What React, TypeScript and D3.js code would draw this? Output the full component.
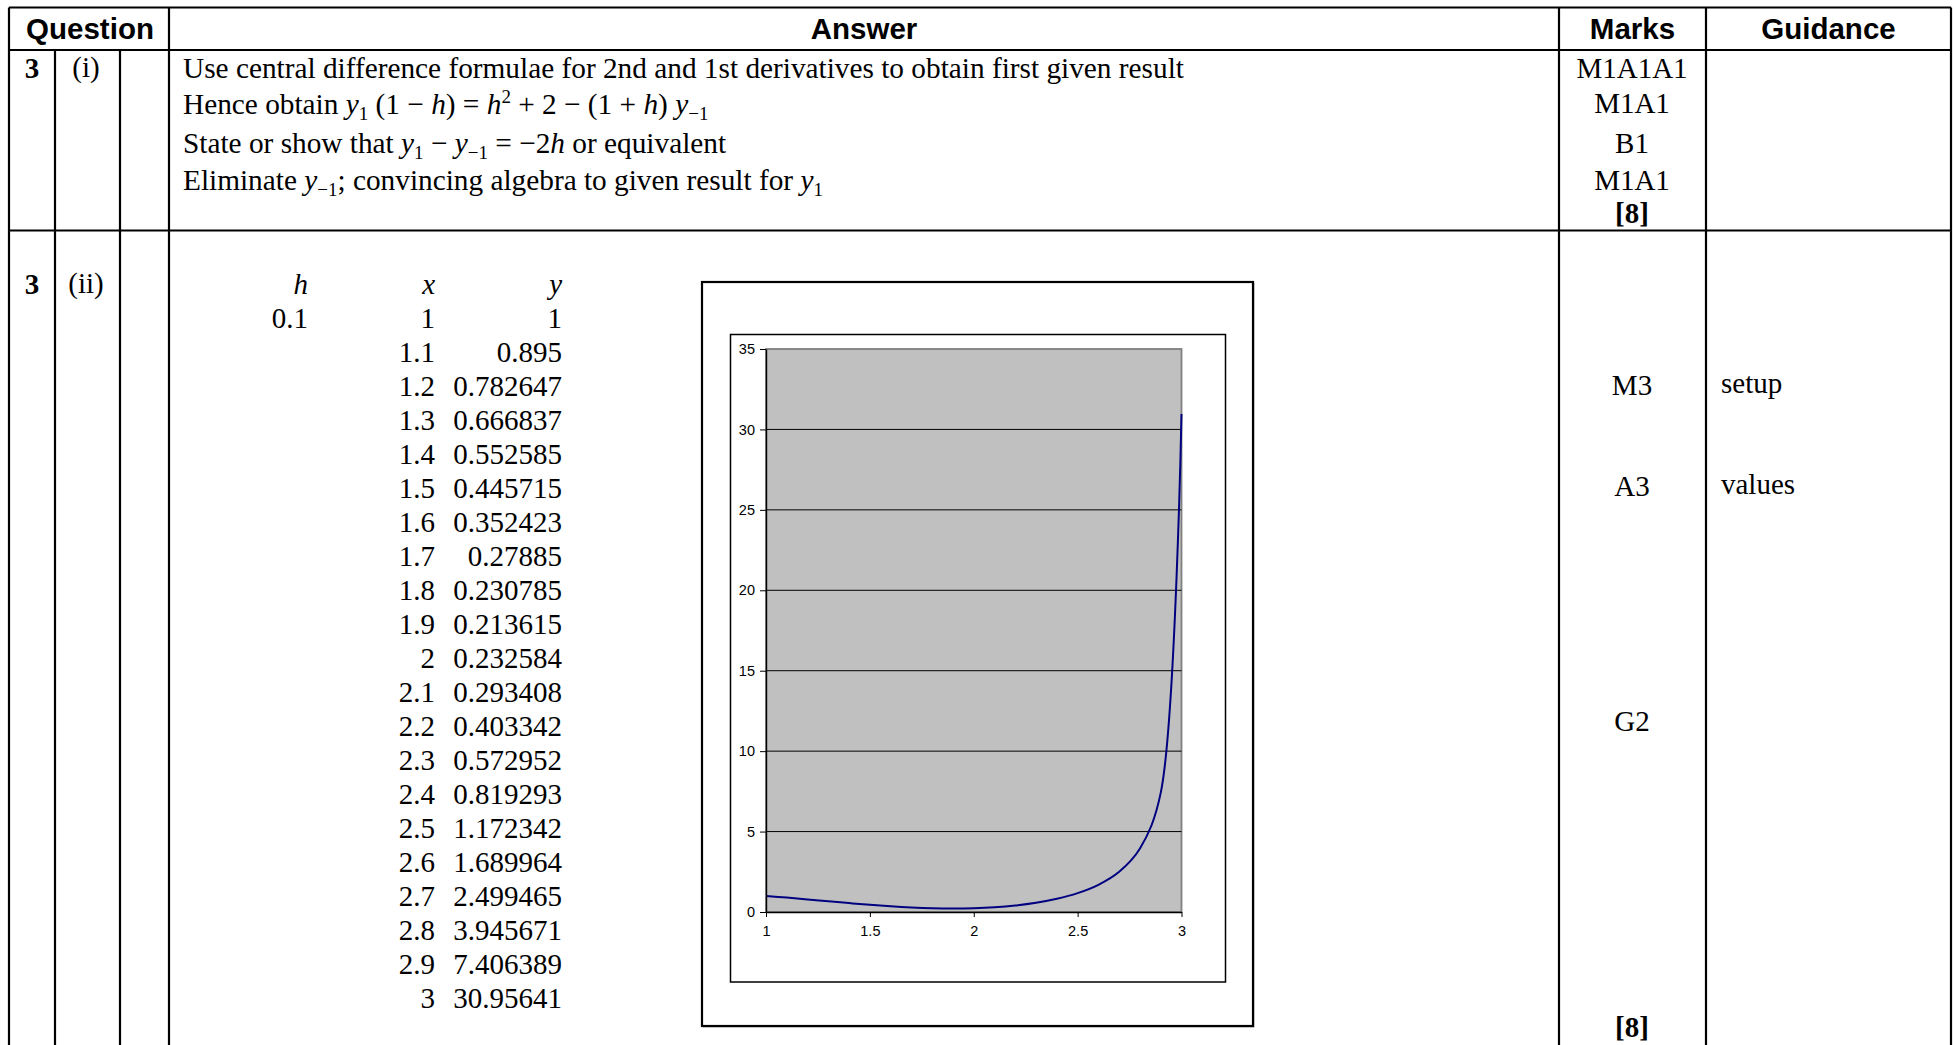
import React, { useEffect, useRef } from 'react';
import * as d3 from 'd3';

// ---- data ----
const hValue = 0.1;
const xValues = [1, 1.1, 1.2, 1.3, 1.4, 1.5, 1.6, 1.7, 1.8, 1.9, 2, 2.1, 2.2, 2.3, 2.4, 2.5, 2.6, 2.7, 2.8, 2.9, 3];
const yValues = [1, 0.895, 0.782647, 0.666837, 0.552585, 0.445715, 0.352423, 0.27885, 0.230785, 0.213615, 0.232584, 0.293408, 0.403342, 0.572952, 0.819293, 1.172342, 1.689964, 2.499465, 3.945671, 7.406389, 30.95641];
const yTicks = [0, 5, 10, 15, 20, 25, 30, 35];
const xTicks = [1, 1.5, 2, 2.5, 3];
const headers = ['Question', 'Answer', 'Marks', 'Guidance'];
const marksPart1 = ['M1A1A1', 'M1A1', 'B1', 'M1A1'];
const totalMarks = '[8]';
const marksPart2 = ['M3', 'A3', 'G2'];
const guidancePart2 = ['setup', 'values'];

type Seg = { t: string; i?: boolean; sub?: boolean; sup?: boolean };
const answerLines: Seg[][] = [
  [{ t: 'Use central difference formulae for 2nd and 1st derivatives to obtain first given result' }],
  [
    { t: 'Hence obtain ' }, { t: 'y', i: true }, { t: '1', sub: true }, { t: ' (1 \u2212 ' }, { t: 'h', i: true },
    { t: ') = ' }, { t: 'h', i: true }, { t: '2', sup: true }, { t: ' + 2 \u2212 (1 + ' }, { t: 'h', i: true },
    { t: ') ' }, { t: 'y', i: true }, { t: '\u22121', sub: true },
  ],
  [
    { t: 'State or show that ' }, { t: 'y', i: true }, { t: '1', sub: true }, { t: ' \u2212 ' }, { t: 'y', i: true },
    { t: '\u22121', sub: true }, { t: ' = \u22122' }, { t: 'h', i: true }, { t: ' or equivalent' },
  ],
  [
    { t: 'Eliminate ' }, { t: 'y', i: true }, { t: '\u22121', sub: true }, { t: '; convincing algebra to given result for ' },
    { t: 'y', i: true }, { t: '1', sub: true },
  ],
];

const SERIF = '"Liberation Serif", "Times New Roman", serif';
const SANS = '"Liberation Sans", Arial, sans-serif';
const FS = 29;
const FS_ANS = 29.3;

function RichText({ x, y, segs }: { x: number; y: number; segs: Seg[] }) {
  let shift = 0;
  return (
    <text x={x} y={y} fontFamily={SERIF} fontSize={FS_ANS} fill="#000">
      {segs.map((s, k) => {
        const target = s.sub ? 6 : s.sup ? -11 : 0;
        const dy = target - shift;
        shift = target;
        return (
          <tspan key={k} dy={dy} fontStyle={s.i ? 'italic' : 'normal'} fontSize={s.sub || s.sup ? 19 : FS_ANS}>
            {s.t}
          </tspan>
        );
      })}
    </text>
  );
}

export default function App() {
  const leftAxisRef = useRef<SVGGElement>(null);
  const bottomAxisRef = useRef<SVGGElement>(null);

  const sx = d3.scaleLinear().domain([1, 3]).range([766, 1181.5]);
  const sy = d3.scaleLinear().domain([0, 35]).range([912, 349]);

  useEffect(() => {
    if (leftAxisRef.current) {
      const g = d3.select(leftAxisRef.current);
      g.call(d3.axisLeft(sy).tickValues(yTicks).tickSize(6).tickSizeOuter(0).tickPadding(5).tickFormat(d3.format('d')) as any);
      g.selectAll('text').attr('font-family', SANS).attr('font-size', 14.5).attr('fill', '#000');
      g.selectAll('line').attr('stroke', '#000');
      g.select('.domain').attr('stroke', '#000').attr('stroke-width', 1.4);
    }
    if (bottomAxisRef.current) {
      const g = d3.select(bottomAxisRef.current);
      g.call(d3.axisBottom(sx).tickValues(xTicks).tickSize(5).tickSizeOuter(0).tickPadding(9).tickFormat(d3.format('')) as any);
      g.selectAll('text').attr('font-family', SANS).attr('font-size', 14.5).attr('fill', '#000');
      g.selectAll('line').attr('stroke', '#000');
      g.select('.domain').attr('stroke', '#000').attr('stroke-width', 1.4);
    }
  }, []);

  const line = d3
    .line<number>()
    .x((_, i) => sx(xValues[i]))
    .y((d) => sy(d))
    .curve(d3.curveCatmullRom.alpha(0.5));

  // table geometry
  const L = 9, R = 1951, T = 7.5, HB = 50, R1B = 230.5;
  const cols = [55, 120, 169, 1559, 1706];
  const lw = 2.2;
  const rowBase = 327.5, rowStep = 34;

  return (
    <svg width={1954} height={1045} style={{ position: 'absolute', left: 0, top: 0, background: '#fff' }}>
      <rect x={0} y={0} width={1954} height={1045} fill="#fff" />
      {/* table lines */}
      <g stroke="#000" strokeWidth={lw}>
        <line x1={L} x2={R} y1={T} y2={T} />
        <line x1={L} x2={R} y1={HB} y2={HB} />
        <line x1={L} x2={R} y1={R1B} y2={R1B} />
        <line x1={L} x2={L} y1={T} y2={1045} />
        <line x1={R} x2={R} y1={T} y2={1045} />
        <line x1={cols[0]} x2={cols[0]} y1={HB} y2={1045} />
        <line x1={cols[1]} x2={cols[1]} y1={HB} y2={1045} />
        <line x1={cols[2]} x2={cols[2]} y1={T} y2={1045} />
        <line x1={cols[3]} x2={cols[3]} y1={T} y2={1045} />
        <line x1={cols[4]} x2={cols[4]} y1={T} y2={1045} />
      </g>
      {/* headers */}
      <g fontFamily={SANS} fontWeight="bold" fontSize={29.5} textAnchor="middle" fill="#000">
        <text x={(L + cols[2]) / 2 + 1} y={39}>{headers[0]}</text>
        <text x={(cols[2] + cols[3]) / 2} y={39}>{headers[1]}</text>
        <text x={(cols[3] + cols[4]) / 2} y={39}>{headers[2]}</text>
        <text x={(cols[4] + R) / 2} y={39}>{headers[3]}</text>
      </g>
      {/* question labels */}
      <g fontFamily={SERIF} fontSize={FS} fill="#000" textAnchor="middle">
        <text x={32} y={78} fontWeight="bold">3</text>
        <text x={86} y={77}>(i)</text>
        <text x={32} y={294} fontWeight="bold">3</text>
        <text x={86} y={293}>(ii)</text>
      </g>
      {/* part (i) answer */}
      {answerLines.map((segs, k) => (
        <RichText key={k} x={183} y={[78, 114, 153, 190][k]} segs={segs} />
      ))}
      {/* marks */}
      <g fontFamily={SERIF} fontSize={FS} fill="#000" textAnchor="middle">
        {marksPart1.map((m, k) => (
          <text key={k} x={1632} y={[78, 113, 153, 190][k]}>{m}</text>
        ))}
        <text x={1632} y={223} fontWeight="bold">{totalMarks}</text>
        {marksPart2.map((m, k) => (
          <text key={'b' + k} x={1632} y={[395, 496, 731][k]}>{m}</text>
        ))}
        <text x={1632} y={1037} fontWeight="bold">{totalMarks}</text>
      </g>
      <g fontFamily={SERIF} fontSize={FS} fill="#000">
        {guidancePart2.map((g, k) => (
          <text key={k} x={1721} y={[393, 494][k]}>{g}</text>
        ))}
      </g>
      {/* value table */}
      <g fontFamily={SERIF} fontSize={FS} fill="#000" textAnchor="end">
        <text x={308} y={294} fontStyle="italic">h</text>
        <text x={435} y={294} fontStyle="italic">x</text>
        <text x={562} y={294} fontStyle="italic">y</text>
        <text x={308} y={rowBase}>{String(hValue)}</text>
        {xValues.map((x, i) => (
          <text key={'x' + i} x={435} y={rowBase + rowStep * i}>{String(x)}</text>
        ))}
        {yValues.map((y, i) => (
          <text key={'y' + i} x={562} y={rowBase + rowStep * i}>{String(y)}</text>
        ))}
      </g>
      {/* chart */}
      <rect x={703} y={283} width={551} height={744} fill="none" stroke="#aaa" strokeWidth={1} />
      <rect x={702} y={282} width={551} height={744} fill="#fff" stroke="#000" strokeWidth={2.2} />
      <rect x={730.5} y={334.5} width={495} height={647.5} fill="#fff" stroke="#000" strokeWidth={1.5} />
      <rect x={sx(1)} y={sy(35)} width={sx(3) - sx(1)} height={sy(0) - sy(35)} fill="#C0C0C0" stroke="#808080" strokeWidth={1.8} />
      <g stroke="#000" strokeWidth={1}>
        {yTicks.filter((t) => t > 0 && t < 35).map((t) => (
          <line key={t} x1={sx(1)} x2={sx(3)} y1={sy(t)} y2={sy(t)} />
        ))}
      </g>
      <path d={line(yValues) || ''} fill="none" stroke="#000080" strokeWidth={2} />
      <g ref={leftAxisRef} transform={`translate(${sx(1)},0)`} />
      <g ref={bottomAxisRef} transform={`translate(0,${sy(0)})`} />
    </svg>
  );
}
